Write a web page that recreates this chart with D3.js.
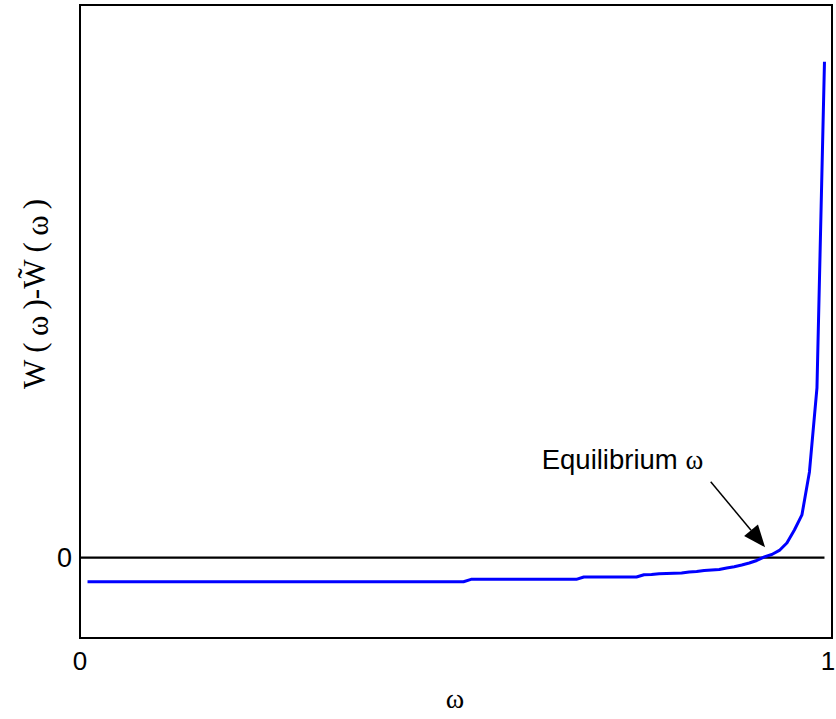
<!DOCTYPE html>
<html>
<head>
<meta charset="utf-8">
<script src="https://cdn.jsdelivr.net/npm/d3@7"></script>
<style>
  body { margin: 0; background: #fff; }
</style>
</head>
<body>
<script>
// values
let omega = [0.01, 0.51, 0.52, 0.66, 0.67, 0.74, 0.75, 0.76, 0.77, 0.78, 0.79, 0.80, 0.81, 0.82, 0.83,
  0.84, 0.85, 0.86, 0.87, 0.88, 0.89, 0.90, 0.91, 0.92, 0.93, 0.94, 0.95, 0.96, 0.97, 0.98, 0.99];
let gap = [-0.030, -0.030, -0.027, -0.027, -0.024, -0.024, -0.0212, -0.021, -0.020, -0.0197, -0.0194, -0.019, -0.0178, -0.0172, -0.016,
  -0.0153, -0.0147, -0.0128, -0.0112, -0.0091, -0.0066, -0.0035, 0.0009, 0.004, 0.009, 0.0183, 0.0345, 0.0532, 0.1067, 0.2113, 0.6173];
let xTicks = [0, 1];
let yTicks = [0];
let arrowFrom = [0.8387, 0.0946];
let arrowTo = [0.911, 0.013];
let labelAt = [0.614, 0.111];

let width = 836, height = 719;

let svg = d3.select("body")
.append("svg")
.attr("width", width)
.attr("height", height);

let x = d3.scaleLinear().domain([0, 1]).range([80, 832]);
let y = d3.scaleLinear().domain([-0.1, 0.688]).range([638, 5]);

// box
svg.append("rect")
.attr("x", x(0)).attr("y", y(0.688))
.attr("width", x(1) - x(0)).attr("height", y(-0.1) - y(0.688))
.attr("fill", "none").attr("stroke", "#000").attr("stroke-width", 2);

// zero line
svg.append("line")
.attr("x1", x(0)).attr("x2", x(0.99))
.attr("y1", y(0)).attr("y2", y(0))
.attr("stroke", "#000").attr("stroke-width", 2.2);

// tick labels
svg.selectAll(".xt").data(xTicks).enter().append("text")
.attr("x", d => d === 1 ? x(d) - 4 : x(d)).attr("y", 670)
.attr("text-anchor", "middle")
.attr("font-family", "Liberation Sans, Arial, sans-serif")
.attr("font-size", 26)
.text(d => d);

svg.selectAll(".yt").data(yTicks).enter().append("text")
.attr("x", 72).attr("y", d => y(d) + 9)
.attr("text-anchor", "end")
.attr("font-family", "Liberation Sans, Arial, sans-serif")
.attr("font-size", 27)
.text(d => d);

// curve
let pts = omega.map((w, i) => [w, gap[i]]);
svg.append("path")
.datum(pts)
.attr("fill", "none")
.attr("stroke", "#0000ff")
.attr("stroke-width", 3)
.attr("stroke-linejoin", "round")
.attr("d", d3.line().x(d => x(d[0])).y(d => y(d[1])));

// annotation arrow
let ax0 = x(arrowFrom[0]), ay0 = y(arrowFrom[1]);
let ax1 = x(arrowTo[0]), ay1 = y(arrowTo[1]);
let ang = Math.atan2(ay1 - ay0, ax1 - ax0);
let hl = 22, hw = 9;
let bx = ax1 - hl * Math.cos(ang), by = ay1 - hl * Math.sin(ang);
svg.append("line")
.attr("x1", ax0).attr("y1", ay0).attr("x2", bx).attr("y2", by)
.attr("stroke", "#000").attr("stroke-width", 1.5);
svg.append("path")
.attr("d", "M" + ax1 + "," + ay1 +
  "L" + (bx + hw * Math.sin(ang)) + "," + (by - hw * Math.cos(ang)) +
  "L" + (bx - hw * Math.sin(ang)) + "," + (by + hw * Math.cos(ang)) + "Z")
.attr("fill", "#000");

let lab = svg.append("text")
.attr("x", x(labelAt[0])).attr("y", y(labelAt[1]))
.attr("font-family", "Liberation Sans, Arial, sans-serif")
.attr("font-size", 27.5);
lab.append("tspan").text("Equilibrium ");
lab.append("tspan").attr("font-family", "'Liberation Serif', 'Times New Roman', serif").attr("font-size", 27).text("ω");

// axis labels
svg.append("text")
.attr("x", 455).attr("y", 708)
.attr("text-anchor", "middle")
.attr("font-family", "'Liberation Serif', 'Times New Roman', serif")
.attr("font-size", 28)
.text("ω");

let yl = svg.append("text")
.attr("transform", "translate(45,294) rotate(-90)")
.attr("text-anchor", "middle")
.attr("font-family", "'Liberation Serif', 'Times New Roman', serif")
.attr("font-size", 31);
yl.append("tspan").text("W (");
yl.append("tspan").attr("dy", 3).text("\u2009ω\u2009");
yl.append("tspan").attr("dy", -3).text(")-W\u0303 (");
yl.append("tspan").attr("dy", 3).text("\u2009ω\u2009");
yl.append("tspan").attr("dy", -3).text(")");
</script>
</body>
</html>
